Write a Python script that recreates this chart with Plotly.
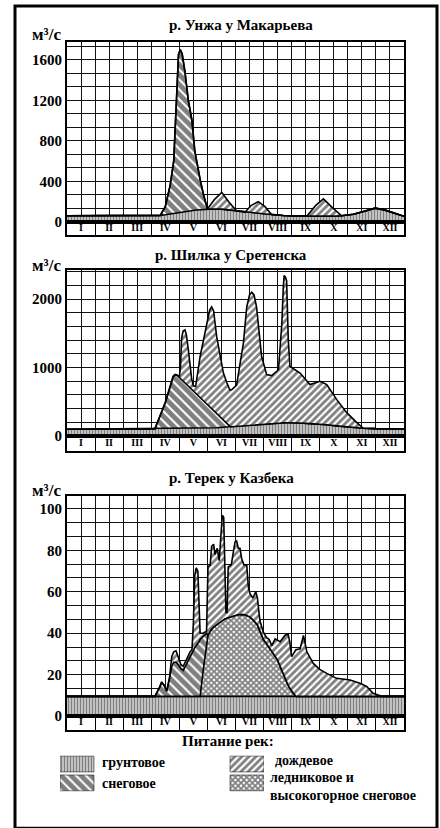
import plotly.graph_objects as go

# ---------------- data ----------------
MONTHS = ["I", "II", "III", "IV", "V", "VI", "VII", "VIII", "IX", "X", "XI", "XII"]
TITLES = ["р. Унжа у Макарьева", "р. Шилка у Сретенска", "р. Терек у Казбека"]
UNIT = "м³/с"
LEGEND_TITLE = "Питание рек:"
LEGEND_LABELS = ["грунтовое", "снеговое", "дождевое", "ледниковое и<br>высокогорное снеговое"]

# Унжа (x = months from 1 Jan, flow m3/s, cumulative tops of layers)
X1 = [0, 1, 2, 3, 3.32, 3.5, 3.67, 3.8, 3.87, 3.92, 3.97, 4.03, 4.1, 4.2, 4.32, 4.45,
      4.55, 4.74, 4.85, 5.0, 5.25, 5.51, 5.75, 6.04, 6.34, 6.55, 6.81, 7.05, 7.29, 7.7,
      8.0, 8.54, 8.85, 9.13, 9.45, 9.78, 10.2, 10.6, 10.97, 11.3, 11.6, 12]
GROUND1 = [60, 60, 60, 62, 64, 70, 78, 84, 88, 90, 92, 95, 98, 102, 106, 110,
           114, 120, 123, 126, 127, 125, 118, 108, 95, 90, 85, 78, 70, 62,
           58, 56, 55, 55, 56, 60, 75, 105, 135, 118, 90, 55]
SNOW1 = [60, 60, 60, 62, 64, 150, 356, 600, 1000, 1400, 1650, 1700, 1660, 1480, 1200, 1000,
         700, 420, 280, 126, 127, 125, 118, 108, 95, 90, 85, 78, 70, 62,
         58, 56, 55, 55, 56, 60, 75, 105, 135, 118, 90, 55]
TOTAL1 = [60, 60, 60, 62, 64, 150, 356, 600, 1000, 1400, 1650, 1700, 1660, 1480, 1200, 1000,
          700, 420, 280, 126, 220, 291, 200, 108, 95, 160, 200, 150, 70, 62,
          58, 56, 160, 226, 140, 60, 75, 105, 135, 118, 90, 55]

# Шилка
X2 = [0, 1, 2, 3, 3.13, 3.5, 3.78, 3.85, 3.92, 4.0, 4.04, 4.08, 4.13, 4.2, 4.25,
      4.32, 4.44, 4.5, 4.58, 4.74, 4.97, 5.08, 5.15, 5.22, 5.33, 5.57, 5.69, 5.8, 5.87, 6.04,
      6.16, 6.28, 6.4, 6.5, 6.58, 6.66, 6.75, 6.93, 7.11, 7.29, 7.53, 7.65, 7.7, 7.73, 7.78,
      7.82, 7.88, 7.94, 8.3, 8.65, 9.01, 9.25, 9.6, 9.96, 10.32, 10.55, 11, 11.5, 12]
GROUND2 = [95, 100, 100, 100, 100, 102, 103, 104, 104, 105, 105, 105, 106, 106, 107,
           107, 108, 108, 109, 110, 112, 114, 115, 116, 118, 124, 127, 130, 132, 138,
           142, 146, 150, 154, 157, 160, 164, 170, 176, 181, 186, 188, 189, 190, 190,
           190, 190, 190, 186, 178, 170, 160, 145, 130, 115, 110, 104, 100, 100]
SNOW2 = [95, 100, 100, 100, 100, 480, 860, 890, 885, 852, 836, 820, 800, 772, 752,
         724, 676, 652, 620, 555, 462, 417, 389, 360, 316, 218, 170, 138, 132, 138,
         142, 146, 150, 154, 157, 160, 164, 170, 176, 181, 186, 188, 189, 190, 190,
         190, 190, 190, 186, 178, 170, 160, 145, 130, 115, 110, 104, 100, 100]
TOTAL2 = [95, 100, 100, 100, 100, 490, 870, 898, 890, 860, 1000, 1420, 1530, 1550, 1480,
          1260, 830, 730, 720, 1160, 1640, 1840, 1885, 1830, 1450, 917, 780, 670, 676, 740,
          1050, 1352, 1884, 2060, 2101, 2060, 1884, 1159, 894, 880, 966, 1642, 2150, 2343, 2320,
          2270, 1401, 1014, 918, 749, 797, 749, 532, 338, 193, 110, 104, 100, 100]

# Терек
X3G = [0, 12]
GROUND3 = [9.5, 9.5]
X3 = [0, 1, 2, 3, 3.13, 3.3, 3.37, 3.45, 3.55, 3.65,
      3.73, 3.8, 3.88, 3.95, 4.05, 4.14, 4.25, 4.38, 4.45, 4.5,
      4.55, 4.6, 4.66, 4.71, 4.74, 4.85, 4.97, 5.02, 5.1, 5.15,
      5.22, 5.27, 5.35, 5.42, 5.5, 5.53, 5.58, 5.62, 5.66, 5.7,
      5.74, 5.85, 5.98, 6.04, 6.1, 6.16, 6.22, 6.3, 6.4, 6.46,
      6.52, 6.62, 6.72, 6.78, 6.87, 6.99, 7.1, 7.2, 7.29, 7.41,
      7.5, 7.59, 7.76, 7.87, 7.93, 8.0, 8.06, 8.15, 8.3, 8.42,
      8.48, 8.54, 8.77, 9.0, 9.25, 9.6, 10.08, 10.43, 10.67, 10.9,
      11.2, 12]
GLACIER3 = [9.5, 9.5, 9.5, 9.5, 9.5, 9.5, 9.5, 9.5, 9.5, 9.5,
            9.5, 9.5, 9.5, 9.5, 9.5, 9.5, 9.5, 9.5, 9.5, 9.5,
            9.5, 9.5, 9.5, 9.5, 9.5, 22, 36, 39, 41, 42,
            43, 43.5, 44.5, 45, 46, 46, 46.5, 47, 47, 47.5,
            47.5, 48, 48.5, 49, 49, 49, 49, 49, 48.5, 48.2,
            47.8, 46.5, 45, 44, 41, 37, 35, 33, 31, 29,
            27, 24, 18, 15, 13.5, 12, 11, 9.5, 9.5, 9.5,
            9.5, 9.5, 9.5, 9.5, 9.5, 9.5, 9.5, 9.5, 9.5, 9.5,
            9.5, 9.5]
SNOW3 = [9.5, 9.5, 9.5, 9.5, 9.5, 14, 16, 15, 12, 18,
         24, 26, 26, 25, 23, 22, 25, 29, 31, 32,
         33, 34, 35, 36, 37, 38.5, 40, 39, 41, 42,
         43, 43.5, 44.5, 45, 46, 46, 46.5, 47, 47, 47.5,
         47.5, 48, 48.5, 49, 49, 49, 49, 49, 48.5, 48.2,
         47.8, 46.5, 45, 44, 41, 37, 35, 33, 31, 29,
         27, 24, 18, 15, 13.5, 12, 11, 9.5, 9.5, 9.5,
         9.5, 9.5, 9.5, 9.5, 9.5, 9.5, 9.5, 9.5, 9.5, 9.5,
         9.5, 9.5]
TOTAL3 = [9.5, 9.5, 9.5, 9.5, 9.5, 14, 16.5, 15, 12, 18.5,
          28.7, 31, 31.5, 29, 25, 24, 27, 31, 32, 45,
          68, 71.6, 70, 42, 40, 40, 41, 72, 73, 82,
          83, 78, 81, 75, 90, 97, 96, 73, 50, 50,
          72, 73, 84, 84.5, 81, 81, 76, 73, 73, 62,
          59, 57, 60, 57, 46, 40.6, 38, 37, 34, 37.3,
          36.5, 35.9, 38.9, 39.7, 36, 28.7, 30, 32, 32.5, 38.9,
          35, 31, 25.4, 22.5, 20.6, 18.2, 17.4, 15.8, 14.3, 11,
          9.5, 9.5]

# ---------------- style ----------------
W, H = 440, 828
FONT = "Liberation Serif"
INK = "black"
GRID = "#111111"


def pxx(p):
    return p / W


def pyy(p):
    return 1 - p / H


PAT = {
    "ground": dict(shape="|", size=3, solidity=0.66, fgcolor=INK, bgcolor="white"),
    "snow": dict(shape="\\", size=7, solidity=0.72, fgcolor=INK, bgcolor="white"),
    "rain": dict(shape="/", size=5, solidity=0.55, fgcolor=INK, bgcolor="white"),
    "glacier": dict(shape="x", size=4, solidity=0.68, fgcolor=INK, bgcolor="white"),
}

XDOM = [pxx(67), pxx(404)]
CHARTS = [
    dict(top=42, zero=224, sbot=237, ymax=1780, major=400, minor=400 / 3, title_y=25, title_x=241, unit_y=35),
    dict(top=273, zero=440, sbot=455, ymax=2420, major=1000, minor=200, title_y=257, title_x=231, unit_y=268),
    dict(top=501, zero=723, sbot=737, ymax=106.2, major=20, minor=20 / 3, title_y=483, title_x=232, unit_y=495),
]

SERIES = [
    [("ground", X1, GROUND1), ("snow", X1, SNOW1), ("rain", X1, TOTAL1)],
    [("ground", X2, GROUND2), ("snow", X2, SNOW2), ("rain", X2, TOTAL2)],
    [("ground", X3G, GROUND3), ("glacier", X3, GLACIER3), ("snow", X3, SNOW3), ("rain", X3, TOTAL3)],
]

fig = go.Figure()
layout = dict(
    width=W, height=H, margin=dict(l=0, r=0, t=0, b=0),
    paper_bgcolor="white", plot_bgcolor="white", showlegend=False,
    annotations=[], shapes=[],
)

for k, (cfg, layers) in enumerate(zip(CHARTS, SERIES)):
    m = 2 * k + 1
    s = 2 * k + 2
    xm, ym = ("x" if m == 1 else f"x{m}"), ("y" if m == 1 else f"y{m}")
    xs, ys = f"x{s}", f"y{s}"
    kx = "xaxis" if m == 1 else f"xaxis{m}"
    ky = "yaxis" if m == 1 else f"yaxis{m}"

    for i, (kind, xx, yy) in enumerate(layers):
        fig.add_trace(go.Scatter(
            x=xx, y=yy, mode="lines", xaxis=xm, yaxis=ym,
            fill="tozeroy" if i == 0 else "tonexty",
            fillpattern=PAT[kind], fillcolor="white",
            line=dict(color=INK, width=1.6), hoverinfo="skip",
        ))

    fig.add_trace(go.Scatter(
        x=[i + 0.5 for i in range(12)], y=[0.5] * 12, mode="text", text=MONTHS,
        textfont=dict(family=FONT, size=10, color=INK, weight="bold"),
        xaxis=xs, yaxis=ys, hoverinfo="skip",
    ))

    layout[kx] = dict(
        domain=XDOM, range=[0, 12], anchor=ym, tick0=0, dtick=1,
        showgrid=True, gridcolor=GRID, gridwidth=1.3,
        minor=dict(dtick=0.5, showgrid=True, gridcolor=GRID, gridwidth=1.3),
        showticklabels=False, ticks="", zeroline=False,
        showline=True, mirror=True, linecolor=INK, linewidth=2, fixedrange=True,
    )
    layout[ky] = dict(
        domain=[pyy(cfg["zero"]), pyy(cfg["top"])], range=[0, cfg["ymax"]], anchor=xm,
        tickmode="linear", tick0=0, dtick=cfg["major"],
        showgrid=True, gridcolor=GRID, gridwidth=1.3,
        minor=dict(dtick=cfg["minor"], tick0=0, showgrid=True, gridcolor=GRID, gridwidth=1.3),
        ticks="", zeroline=False,
        tickfont=dict(family=FONT, size=15, color=INK, weight="bold"),
        showline=True, mirror=True, linecolor=INK, linewidth=2, fixedrange=True,
    )
    layout[f"xaxis{s}"] = dict(
        domain=XDOM, range=[0, 12], anchor=ys, tick0=0, dtick=1,
        showgrid=True, gridcolor=INK, gridwidth=1.3,
        showticklabels=False, ticks="", zeroline=False,
        showline=True, mirror=True, linecolor=INK, linewidth=2, fixedrange=True,
    )
    layout[f"yaxis{s}"] = dict(
        domain=[pyy(cfg["sbot"]), pyy(cfg["zero"])], range=[0, 1], anchor=xs,
        showgrid=False, showticklabels=False, ticks="", zeroline=False,
        showline=True, mirror=True, linecolor=INK, linewidth=2, fixedrange=True,
    )

    layout["annotations"].append(dict(
        x=pxx(cfg["title_x"]), y=pyy(cfg["title_y"]), xref="paper", yref="paper",
        text=TITLES[k], showarrow=False, xanchor="center", yanchor="middle",
        font=dict(family=FONT, size=15, color=INK, weight="bold"),
    ))
    layout["annotations"].append(dict(
        x=pxx(46), y=pyy(cfg["unit_y"]), xref="paper", yref="paper",
        text=UNIT, showarrow=False, xanchor="center", yanchor="middle",
        font=dict(family=FONT, size=17, color=INK, weight="bold"),
    ))

# ---------------- legend ----------------
LEG_CELLS = [("ground", 0, 1), ("snow", 0, 0), ("rain", 5, 1), ("glacier", 5, 0)]
for kind, cx, cy in LEG_CELLS:
    fig.add_trace(go.Scatter(
        x=[cx, cx + 1, cx + 1, cx, cx], y=[cy + 0.08, cy + 0.08, cy + 0.92, cy + 0.92, cy + 0.08],
        mode="lines", fill="toself", fillpattern=PAT[kind], fillcolor="white",
        line=dict(color=INK, width=0.5), xaxis="x7", yaxis="y7", hoverinfo="skip",
    ))
layout["xaxis7"] = dict(domain=[pxx(60), pxx(264)], range=[0, 6], anchor="y7", visible=False, fixedrange=True)
layout["yaxis7"] = dict(domain=[pyy(800), pyy(762)], range=[0, 2], anchor="x7", visible=False, fixedrange=True)

leg_font = dict(family=FONT, size=14, color=INK, weight="bold")
layout["annotations"].append(dict(x=pxx(228), y=pyy(748), xref="paper", yref="paper", text=LEGEND_TITLE,
                                  showarrow=False, xanchor="center", yanchor="middle",
                                  font=dict(family=FONT, size=15, color=INK, weight="bold")))
for (lx, ly), txt in zip([(100, 770), (100, 791), (273, 768), (268, 794)], LEGEND_LABELS):
    layout["annotations"].append(dict(x=pxx(lx), y=pyy(ly), xref="paper", yref="paper", text=txt,
                                      showarrow=False, xanchor="left", yanchor="middle", align="left",
                                      font=leg_font))

layout["shapes"].append(dict(type="rect", xref="paper", yref="paper",
                             x0=pxx(15), x1=pxx(437), y0=-0.01, y1=pyy(6),
                             line=dict(color=INK, width=3)))

fig.update_layout(**layout)
fig.write_html("out.html")
